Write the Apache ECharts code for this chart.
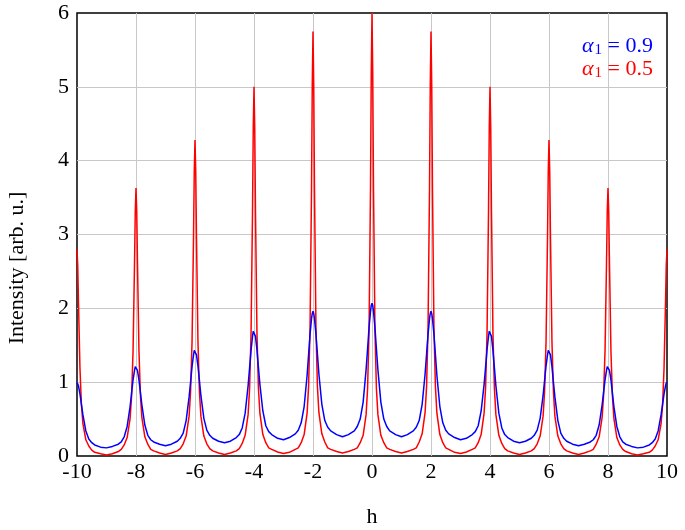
<!DOCTYPE html>
<html>
<head>
<meta charset="utf-8">
<title>Intensity vs h</title>
<script src="https://cdn.jsdelivr.net/npm/echarts@6/dist/echarts.min.js"></script>
<style>
  html, body { margin: 0; padding: 0; background: #fff; }
  #chart { width: 685px; height: 530px; }
</style>
</head>
<body>
<div id="chart"></div>
<script>
// sample positions along h (one row per period between peaks)
const h = [
  -10, -9.975, -9.95, -9.9, -9.85, -9.8, -9.7, -9.6, -9.5, -9.4, -9.2, -9, -8.8, -8.6, -8.5, -8.4, -8.3, -8.2, -8.15, -8.1, -8.05, -8.025,
  -8, -7.975, -7.95, -7.9, -7.85, -7.8, -7.7, -7.6, -7.5, -7.4, -7.2, -7, -6.8, -6.6, -6.5, -6.4, -6.3, -6.2, -6.15, -6.1, -6.05, -6.025,
  -6, -5.975, -5.95, -5.9, -5.85, -5.8, -5.7, -5.6, -5.5, -5.4, -5.2, -5, -4.8, -4.6, -4.5, -4.4, -4.3, -4.2, -4.15, -4.1, -4.05, -4.025,
  -4, -3.975, -3.95, -3.9, -3.85, -3.8, -3.7, -3.6, -3.5, -3.4, -3.2, -3, -2.8, -2.6, -2.5, -2.4, -2.3, -2.2, -2.15, -2.1, -2.05, -2.025,
  -2, -1.975, -1.95, -1.9, -1.85, -1.8, -1.7, -1.6, -1.5, -1.4, -1.2, -1, -0.8, -0.6, -0.5, -0.4, -0.3, -0.2, -0.15, -0.1, -0.05, -0.025,
  0, 0.025, 0.05, 0.1, 0.15, 0.2, 0.3, 0.4, 0.5, 0.6, 0.8, 1, 1.2, 1.4, 1.5, 1.6, 1.7, 1.8, 1.85, 1.9, 1.95, 1.975,
  2, 2.025, 2.05, 2.1, 2.15, 2.2, 2.3, 2.4, 2.5, 2.6, 2.8, 3, 3.2, 3.4, 3.5, 3.6, 3.7, 3.8, 3.85, 3.9, 3.95, 3.975,
  4, 4.025, 4.05, 4.1, 4.15, 4.2, 4.3, 4.4, 4.5, 4.6, 4.8, 5, 5.2, 5.4, 5.5, 5.6, 5.7, 5.8, 5.85, 5.9, 5.95, 5.975,
  6, 6.025, 6.05, 6.1, 6.15, 6.2, 6.3, 6.4, 6.5, 6.6, 6.8, 7, 7.2, 7.4, 7.5, 7.6, 7.7, 7.8, 7.85, 7.9, 7.95, 7.975,
  8, 8.025, 8.05, 8.1, 8.15, 8.2, 8.3, 8.4, 8.5, 8.6, 8.8, 9, 9.2, 9.4, 9.5, 9.6, 9.7, 9.8, 9.85, 9.9, 9.95, 9.975,
  10
]

// alpha1 = 0.9 (blue)
const intensity09 = [
  1.00, 0.99, 0.95, 0.84, 0.70, 0.56, 0.34, 0.23, 0.18, 0.15, 0.12, 0.11, 0.13, 0.16, 0.19, 0.26, 0.40, 0.67, 0.85, 1.03, 1.16, 1.21,
  1.23, 1.21, 1.16, 1.03, 0.86, 0.69, 0.42, 0.28, 0.22, 0.19, 0.16, 0.14, 0.16, 0.20, 0.24, 0.31, 0.48, 0.80, 1.00, 1.21, 1.37, 1.43,
  1.45, 1.43, 1.37, 1.22, 1.02, 0.82, 0.51, 0.35, 0.28, 0.24, 0.20, 0.18, 0.20, 0.25, 0.29, 0.38, 0.58, 0.95, 1.19, 1.43, 1.62, 1.69,
  1.71, 1.69, 1.62, 1.44, 1.20, 0.97, 0.61, 0.41, 0.33, 0.29, 0.24, 0.22, 0.25, 0.30, 0.35, 0.45, 0.67, 1.09, 1.37, 1.65, 1.86, 1.93,
  1.96, 1.93, 1.86, 1.65, 1.38, 1.11, 0.70, 0.48, 0.39, 0.34, 0.29, 0.26, 0.29, 0.34, 0.40, 0.50, 0.73, 1.17, 1.45, 1.74, 1.96, 2.04,
  2.07, 2.04, 1.96, 1.74, 1.45, 1.17, 0.73, 0.50, 0.40, 0.34, 0.29, 0.26, 0.29, 0.34, 0.39, 0.48, 0.70, 1.11, 1.38, 1.65, 1.86, 1.93,
  1.96, 1.93, 1.86, 1.65, 1.37, 1.09, 0.67, 0.45, 0.35, 0.30, 0.25, 0.22, 0.24, 0.29, 0.33, 0.41, 0.61, 0.97, 1.20, 1.44, 1.62, 1.69,
  1.71, 1.69, 1.62, 1.43, 1.19, 0.95, 0.58, 0.38, 0.29, 0.25, 0.20, 0.18, 0.20, 0.24, 0.28, 0.35, 0.51, 0.82, 1.02, 1.22, 1.37, 1.43,
  1.45, 1.43, 1.37, 1.21, 1.00, 0.80, 0.48, 0.31, 0.24, 0.20, 0.16, 0.14, 0.16, 0.19, 0.22, 0.28, 0.42, 0.69, 0.86, 1.03, 1.16, 1.21,
  1.23, 1.21, 1.16, 1.03, 0.85, 0.67, 0.40, 0.26, 0.19, 0.16, 0.13, 0.11, 0.12, 0.15, 0.18, 0.23, 0.34, 0.56, 0.70, 0.84, 0.95, 0.99,
  1.00
]

// alpha1 = 0.5 (red)
const intensity05 = [
  2.80, 2.58, 2.08, 1.19, 0.69, 0.44, 0.22, 0.135, 0.08, 0.05, 0.03, 0.015, 0.03, 0.06, 0.09, 0.15, 0.25, 0.51, 0.81, 1.42, 2.61, 3.30,
  3.63, 3.31, 2.62, 1.43, 0.82, 0.52, 0.26, 0.16, 0.09, 0.07, 0.04, 0.02, 0.04, 0.07, 0.10, 0.165, 0.27, 0.54, 0.87, 1.55, 2.97, 3.85,
  4.28, 3.85, 2.97, 1.55, 0.87, 0.54, 0.27, 0.165, 0.10, 0.07, 0.04, 0.02, 0.04, 0.07, 0.10, 0.17, 0.28, 0.56, 0.91, 1.66, 3.32, 4.44,
  5.00, 4.44, 3.32, 1.67, 0.92, 0.58, 0.29, 0.18, 0.11, 0.09, 0.055, 0.035, 0.05, 0.09, 0.11, 0.18, 0.29, 0.58, 0.94, 1.73, 3.62, 5.01,
  5.75, 5.01, 3.63, 1.74, 0.94, 0.59, 0.30, 0.19, 0.11, 0.09, 0.06, 0.04, 0.06, 0.09, 0.11, 0.18, 0.28, 0.56, 0.91, 1.70, 3.65, 5.17,
  6.00, 5.17, 3.65, 1.70, 0.91, 0.56, 0.28, 0.18, 0.11, 0.09, 0.06, 0.04, 0.06, 0.09, 0.11, 0.19, 0.30, 0.59, 0.94, 1.74, 3.63, 5.01,
  5.75, 5.01, 3.62, 1.73, 0.94, 0.58, 0.29, 0.18, 0.11, 0.09, 0.05, 0.035, 0.055, 0.09, 0.11, 0.18, 0.29, 0.58, 0.92, 1.67, 3.32, 4.44,
  5.00, 4.44, 3.32, 1.66, 0.91, 0.56, 0.28, 0.17, 0.10, 0.07, 0.04, 0.02, 0.04, 0.07, 0.10, 0.165, 0.27, 0.54, 0.87, 1.55, 2.97, 3.85,
  4.28, 3.85, 2.97, 1.55, 0.87, 0.54, 0.27, 0.165, 0.10, 0.07, 0.04, 0.02, 0.04, 0.07, 0.09, 0.16, 0.26, 0.52, 0.82, 1.43, 2.62, 3.31,
  3.63, 3.30, 2.61, 1.42, 0.81, 0.51, 0.25, 0.15, 0.09, 0.06, 0.03, 0.015, 0.03, 0.05, 0.08, 0.135, 0.22, 0.44, 0.69, 1.19, 2.08, 2.58,
  2.80
]

const seriesNames = ['α1 = 0.9', 'α1 = 0.5']
const seriesColors = ['#0000ff', '#ff0000']

const font = 'Liberation Serif'
const fontSize = 22

// zip h with a y array into [x, y] pairs
const toPairs = (ys) => h.map((x, i) => [x, ys[i]])

const chart = echarts.init(document.getElementById('chart'))

const option = {
  animation: false,
  backgroundColor: '#fff',
  grid: {
    left: 77,
    right: 18,
    top: 13,
    bottom: 74,
    outerBoundsMode: 'none',
    containLabel: false,
    show: true,
    borderColor: '#000',
    borderWidth: 1.5,
    backgroundColor: 'transparent'
  },
  legend: {
    orient: 'vertical',
    right: 22,
    top: 30,
    itemWidth: 0,
    itemHeight: 0,
    itemGap: 0,
    icon: 'rect',
    align: 'right',
    data: seriesNames.map((name, i) => ({
      name,
      textStyle: { color: seriesColors[i] }
    })),
    formatter: (name) => {
      const parts = name.split(' = ')
      return '{a|α}{s|1}{e| = ' + parts[1] + '}'
    },
    textStyle: {
      fontFamily: font,
      fontSize: fontSize,
      rich: {
        a: { fontFamily: font, fontSize: fontSize, fontStyle: 'italic' },
        s: { fontFamily: font, fontSize: 15, verticalAlign: 'bottom', padding: [9, 0, 0, 1] },
        e: { fontFamily: font, fontSize: fontSize }
      }
    }
  },
  graphic: [
    {
      // y axis title, placed by hand like the reference
      type: 'text',
      x: 17,
      y: 268,
      rotation: Math.PI / 2,
      style: {
        text: 'Intensity [arb. u.]',
        fontFamily: font,
        fontSize: fontSize,
        fill: '#000',
        align: 'center',
        verticalAlign: 'middle'
      }
    }
  ],
  xAxis: {
    type: 'value',
    min: -10,
    max: 10,
    interval: 2,
    name: 'h',
    nameLocation: 'middle',
    nameGap: 50,
    nameTextStyle: { fontFamily: font, fontSize: fontSize, color: '#000' },
    axisLine: { show: false },
    axisTick: { show: false },
    axisLabel: { fontFamily: font, fontSize: fontSize, color: '#000', margin: 5 },
    splitLine: { show: true, showMinLine: false, showMaxLine: false, lineStyle: { color: '#c8c8c8', width: 1 } }
  },
  yAxis: {
    type: 'value',
    min: 0,
    max: 6,
    interval: 1,
    axisLine: { show: false },
    axisTick: { show: false },
    axisLabel: { fontFamily: font, fontSize: fontSize, color: '#000', margin: 8 },
    splitLine: { show: true, showMinLine: false, showMaxLine: false, lineStyle: { color: '#c8c8c8', width: 1 } }
  },
  series: [
    {
      name: seriesNames[0],
      type: 'line',
      data: toPairs(intensity09),
      showSymbol: false,
      smooth: false,
      lineStyle: { color: seriesColors[0], width: 1.5 },
      itemStyle: { color: seriesColors[0] },
      z: 3
    },
    {
      name: seriesNames[1],
      type: 'line',
      data: toPairs(intensity05),
      showSymbol: false,
      smooth: false,
      lineStyle: { color: seriesColors[1], width: 1.5 },
      itemStyle: { color: seriesColors[1] },
      z: 2
    }
  ]
}

chart.setOption(option)
</script>
</body>
</html>
